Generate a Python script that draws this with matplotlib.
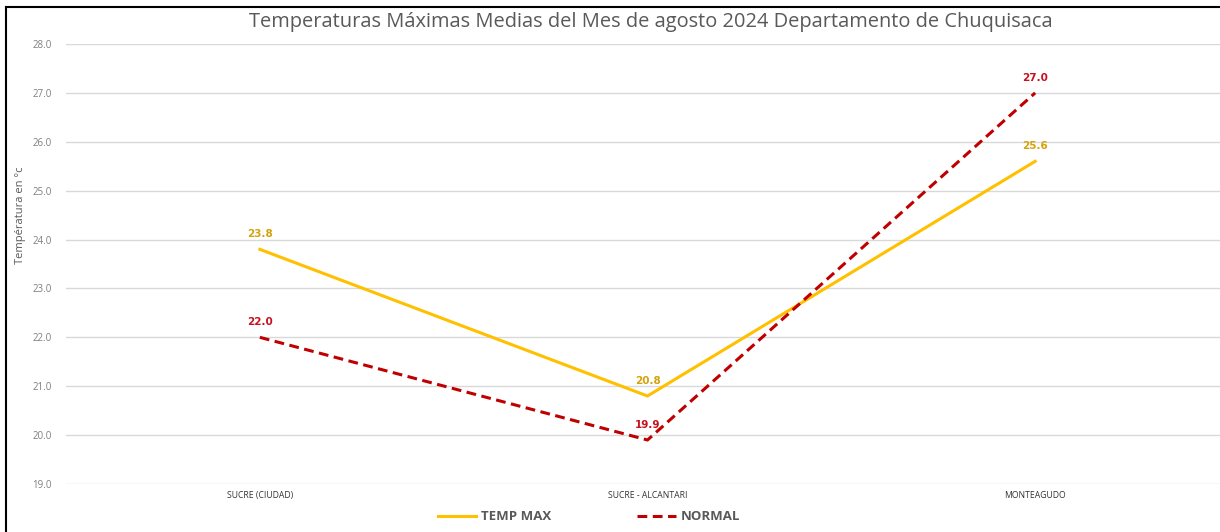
import matplotlib.pyplot as plt
from matplotlib.lines import Line2D

estaciones = ['SUCRE (CIUDAD)', 'SUCRE - ALCANTARI', 'MONTEAGUDO']
temp_max = [23.8, 20.8, 25.6]
normal = [22.0, 19.9, 27.0]
yticks = [19.0, 20.0, 21.0, 22.0, 23.0, 24.0, 25.0, 26.0, 27.0, 28.0]

amarillo = '#FFC000'
rojo = '#C00000'

plt.rcParams['font.family'] = ['Open Sans', 'DejaVu Sans']

fig = plt.figure(figsize=(12.2, 5.32), dpi=100)
ax = fig.add_axes([66/1220, 1-484/532, (1229-66)/1220, (484-44)/532])

x = range(len(estaciones))
ax.plot(x, temp_max, color=amarillo, lw=2.2, label='TEMP MAX', zorder=3)
ax.plot(x, normal, color=rojo, lw=2.2, ls=(0, (3.2, 1.8)), label='NORMAL', zorder=3)

for i in x:
    ax.annotate(f'{temp_max[i]:.1f}', (i, temp_max[i]), xytext=(0, 11), textcoords='offset points',
                ha='center', va='center', fontsize=7.5, fontweight='bold', color='#D4A20A',
                family='DejaVu Sans')
    ax.annotate(f'{normal[i]:.1f}', (i, normal[i]), xytext=(0, 11), textcoords='offset points',
                ha='center', va='center', fontsize=7.5, fontweight='bold', color='#C8101E',
                family='DejaVu Sans')

ax.set_xlim(-0.5, 2.5)
ax.set_ylim(19, 28)
ax.set_yticks(yticks)
ax.set_yticklabels([f'{v:.1f}' for v in yticks], fontsize=7, color='#7F7F7F')
ax.set_xticks(list(x))
ax.set_xticklabels(estaciones, fontsize=6.2, color='#333333')
ax.tick_params(length=0, pad=5)
ax.tick_params(axis='y', pad=10)
ax.grid(axis='y', color='#D9D9D9', lw=1)
for s in ax.spines.values():
    s.set_visible(False)

ax.set_ylabel('Températura en °c', fontsize=8, color='#595959')
ax.yaxis.set_label_coords(-0.034, 0.61)

fig.text(651/1220, 1-22/532, 'Temperaturas Máximas Medias del Mes de agosto 2024 Departamento de Chuquisaca',
         ha='center', va='center', fontsize=14.4, color='#595959')

leg = ax.legend(loc='center', bbox_to_anchor=((589-66)/1163, -0.075), ncol=2, frameon=False,
                handlelength=2.9, handletextpad=0.4, columnspacing=6.5,
                prop={'weight': 'bold', 'size': 9.5})
for t in leg.get_texts():
    t.set_color('#595959')

# marco
fig.add_artist(Line2D([6/1220, 6/1220], [0, 1-7/532], color='black', lw=1.5, transform=fig.transFigure))
fig.add_artist(Line2D([6/1220, 1], [1-7/532, 1-7/532], color='black', lw=1.5, transform=fig.transFigure))

fig.savefig('out.png', dpi=100)
